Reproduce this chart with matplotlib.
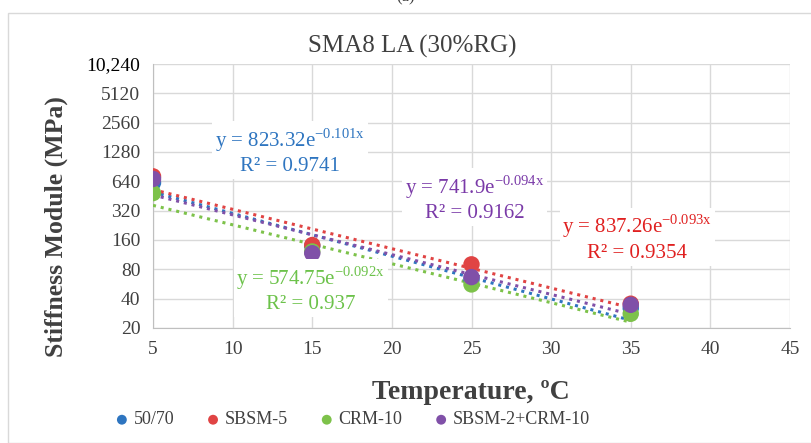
import matplotlib.pyplot as plt
import numpy as np

plt.rcParams['font.family'] = ['Liberation Serif', 'DejaVu Serif']
plt.rcParams['mathtext.fontset'] = 'custom'
plt.rcParams['mathtext.rm'] = 'Liberation Serif'

temps = [5, 15, 25, 35]
names = ['50/70', 'SBSM-5', 'CRM-10', 'SBSM-2+CRM-10']
colors = ['#2E75C0', '#E04444', '#7DC24A', '#8050A8']
text_colors = ['#2E75C0', '#E02020', '#6CC24A', '#7A3AA8']

stiff_5070 = [620, 139, 63, 32]
stiff_sbsm5 = [720, 142, 90, 35.5]
stiff_crm10 = [485, 122, 56, 28]
stiff_sbsm2crm = [677, 117, 66.6, 34.6]
series = [stiff_5070, stiff_sbsm5, stiff_crm10, stiff_sbsm2crm]

# trendline coefficients as printed on the chart (y = a*e^(b*x))
fit_a = [823.32, 837.26, 574.75, 741.9]
fit_b = [-0.101, -0.093, -0.092, -0.094]
fit_r2 = ['0.9741', '0.9354', '0.937', '0.9162']
label_pos = [(13.6, 1300), (35.4, 168), (14.9, 50), (25.2, 432)]

yticks = [20, 40, 80, 160, 320, 640, 1280, 2560, 5120, 10240]

fig = plt.figure(figsize=(8.11, 4.43), dpi=100)
ax = fig.add_axes([153 / 811, 1 - 328 / 443, (790 - 153) / 811, (328 - 64) / 443])

xx = np.linspace(temps[0], temps[-1], 100)
for vals, a, b, c in zip(series, fit_a, fit_b, colors):
    ax.plot(xx, a * np.exp(b * xx), ls=(0, (1, 1.6)), lw=2.2, color=c, zorder=3)
for vals, name, c in zip(series, names, colors):
    ax.scatter(temps, vals, s=140, color=c, label=name, zorder=4, edgecolors='none')

for (lx, ly), a, b, r2, tc in zip(label_pos, fit_a, fit_b, fit_r2, text_colors):
    txt = 'y = %se$^{\\mathregular{%s}}$\nR² = %s' % (a, '%gx' % b, r2)
    ax.text(lx, ly, txt, color=tc, fontsize=15, ha='center', va='center',
            linespacing=1.25, zorder=5,
            bbox=dict(facecolor='white', edgecolor='none', pad=2))

ax.set_yscale('log', base=2)
ax.set_ylim(20, 10240)
ax.set_yticks(yticks)
ax.set_yticklabels(['10,240' if t == 10240 else str(t) for t in yticks])
ax.minorticks_off()
ax.set_xlim(5, 45)
ax.set_xticks(range(5, 50, 5))

ax.grid(True, color='#D9D9D9', lw=1)
ax.set_axisbelow(True)
for s in ['top', 'right']:
    ax.spines[s].set_visible(False)
for s in ['left', 'bottom']:
    ax.spines[s].set_color('#BFBFBF')
ax.tick_params(length=0, labelsize=14, colors='#404040', pad=9)
ax.get_yticklabels()[-1].set_color('black')

fig.text(0.508, 0.895, 'SMA8 LA (30%RG)', fontsize=18, color='#404040', ha='center', va='center')
fig.text(0.58, 0.115, 'Temperature, ºC', fontsize=20, fontweight='bold', color='#404040',
         ha='center', va='center')
fig.text(0.07, 0.488, 'Stiffness Module (MPa)', fontsize=18.5, fontweight='bold', color='#404040',
         ha='center', va='center', rotation=90)
fig.text(0.5, 1.005, '(a)', fontsize=12, color='#404040', ha='center', va='center')

fig.legend(loc='center', bbox_to_anchor=(0.435, 0.052), ncol=4, frameon=False,
           fontsize=13, handlelength=0.7, handletextpad=0.3, columnspacing=1.8,
           markerscale=0.6, labelcolor='#404040')

fig.patches.append(plt.Rectangle((8 / 811, 0), 1, 1 - 13 / 443, transform=fig.transFigure,
                                 fill=False, edgecolor='#D9D9D9', lw=1))

fig.savefig('out.png', dpi=100)
